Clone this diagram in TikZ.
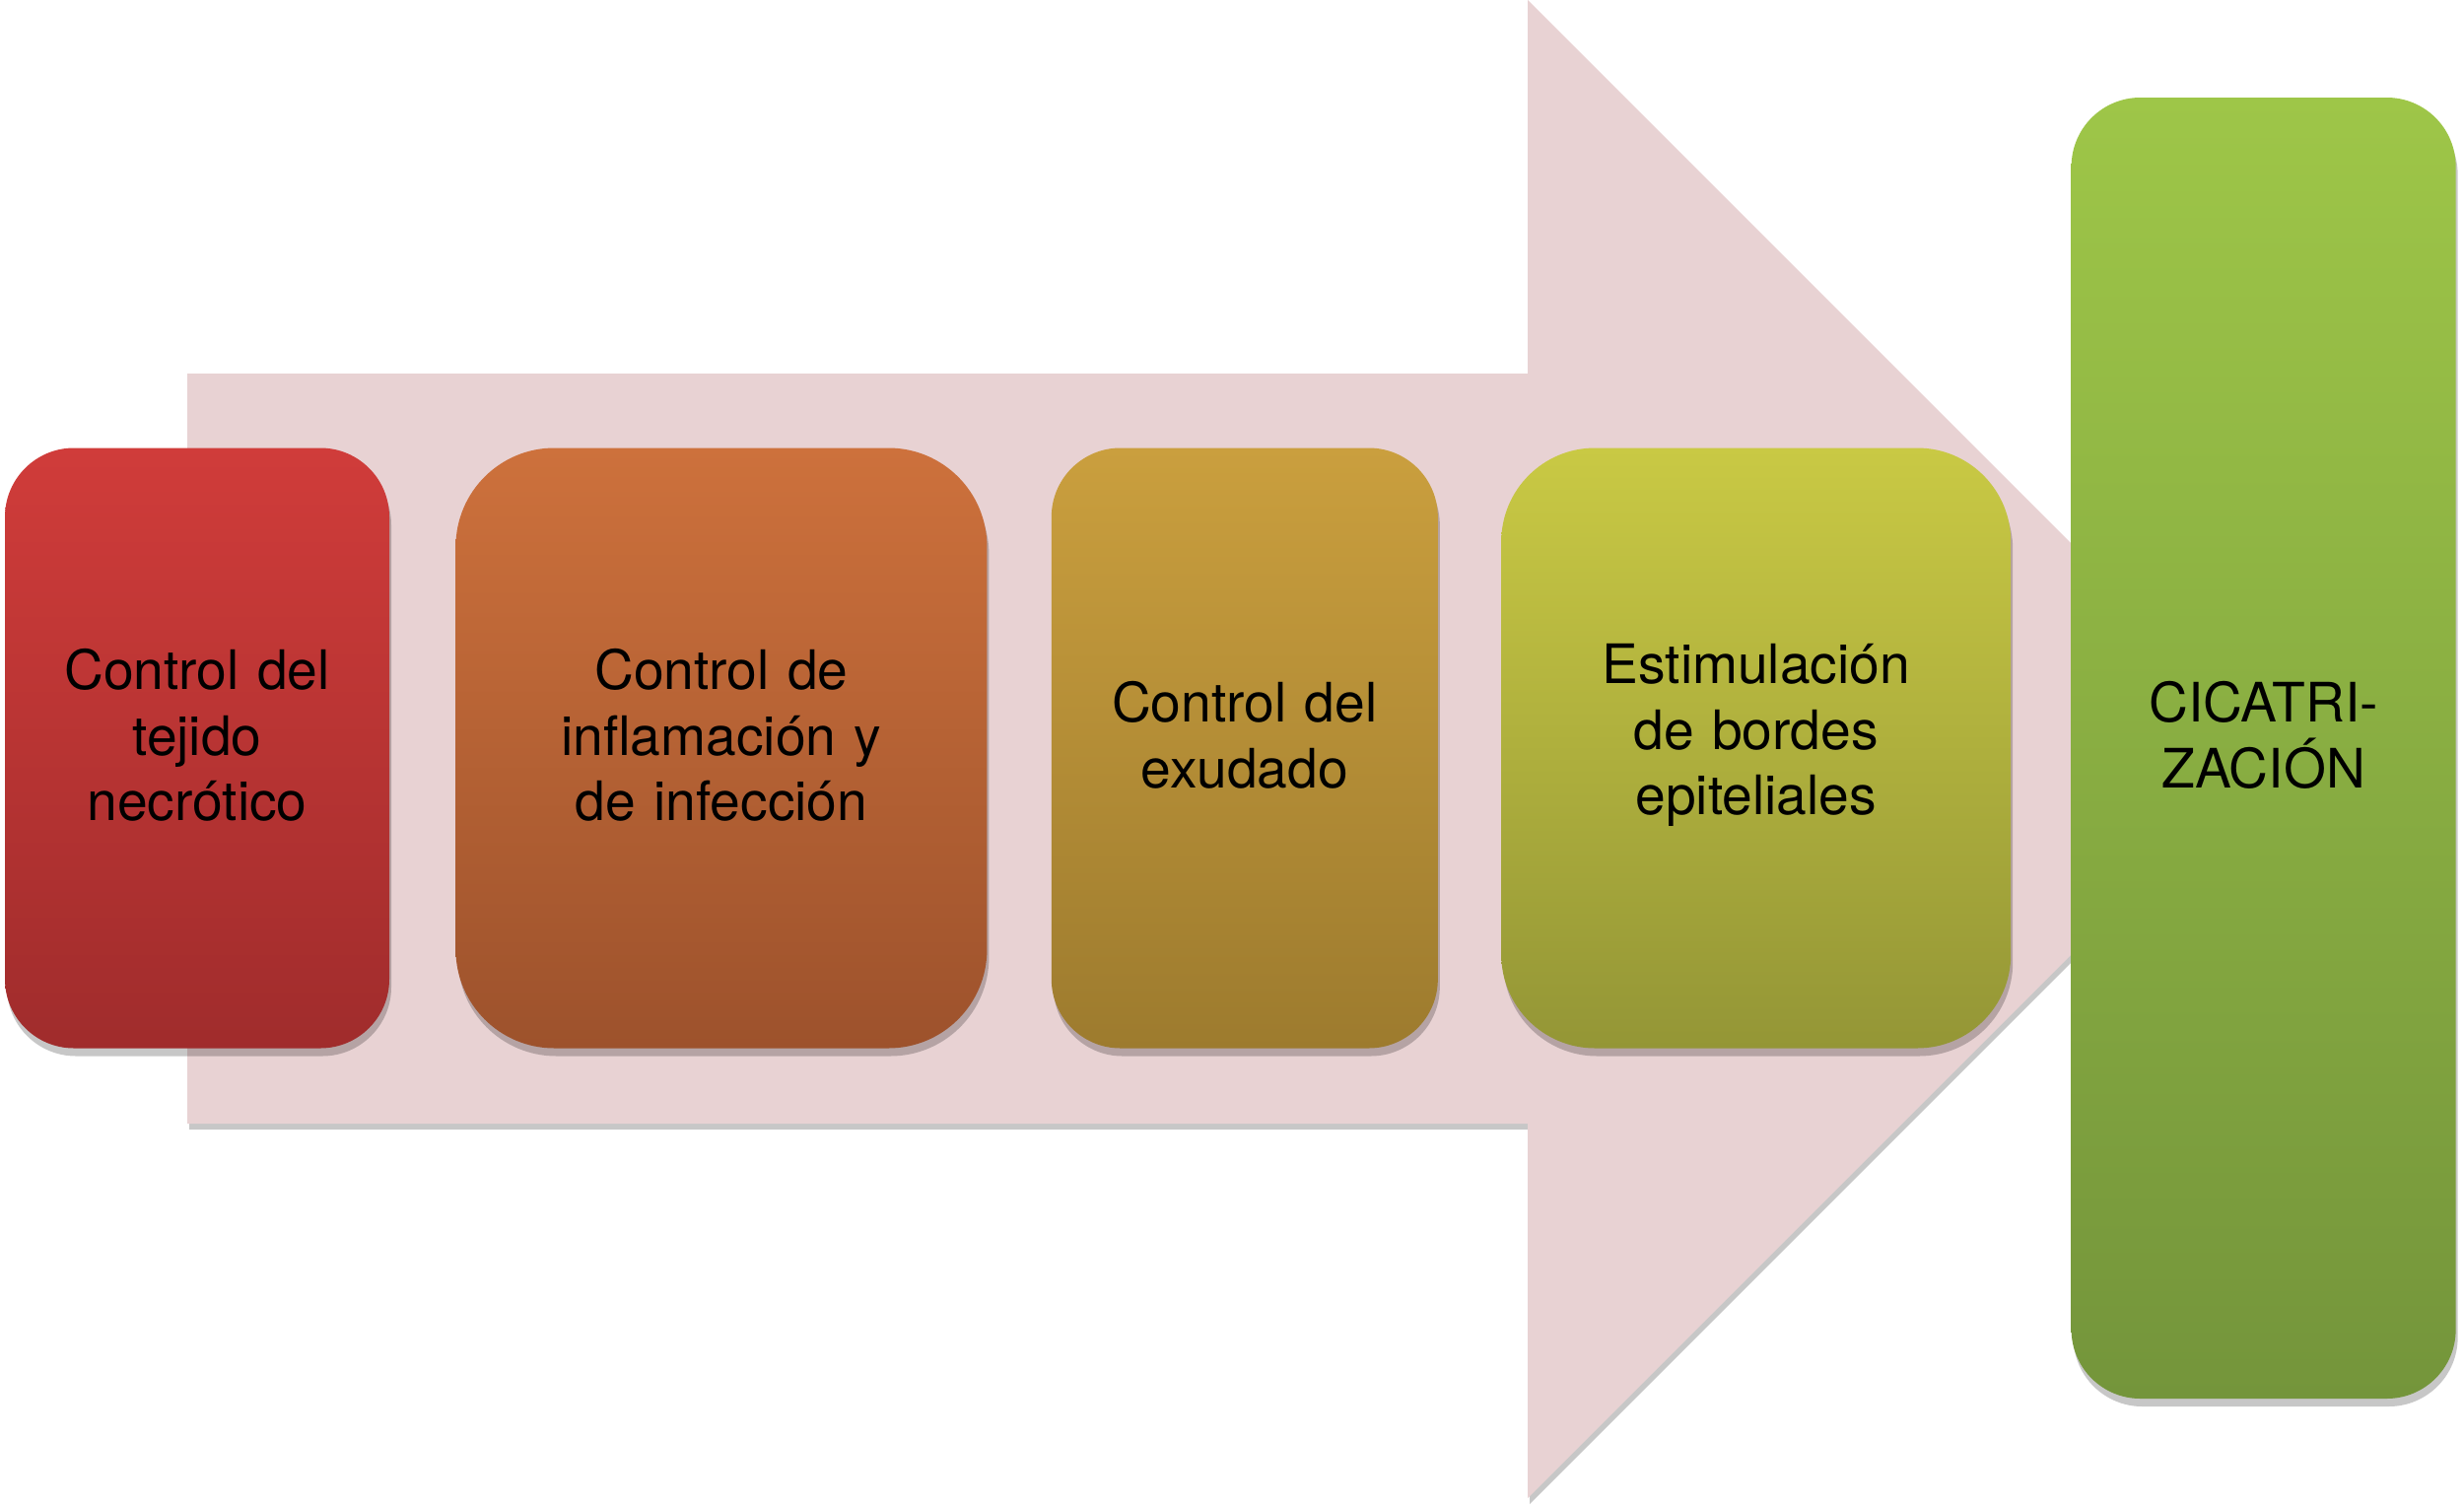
\documentclass[tikz,border=0pt]{standalone}
\usepackage{fontspec}
\setmainfont{TeX Gyre Heros}
\usepackage{tikz}
\usetikzlibrary{positioning,shadows}
\tikzset{
  stepbox/.style={rounded corners=0.7cm, align=center,
                  minimum height=6.09cm, text width=#1, inner sep=0pt,
                  font=\fontsize{15.7}{19}\selectfont,
                  execute at end node={\par\vspace*{0.26cm}},
                  drop shadow={shadow xshift=0.02cm, shadow yshift=-0.08cm,
                               opacity=0.22, fill=black}},
  stepbox/.default=3.9cm,
  necbox/.style={stepbox, top color=nectop, bottom color=necbot},
  infbox/.style={stepbox=5.39cm, rounded corners=1cm,
                 top color=inftop, bottom color=infbot},
  exubox/.style={stepbox=3.92cm, top color=exutop, bottom color=exubot},
  epibox/.style={stepbox=5.17cm, rounded corners=0.95cm,
                 top color=epitop, bottom color=epibot},
  cicbox/.style={stepbox, minimum height=13.2cm,
                 top color=cictop, bottom color=cicbot},
  bigarrow/.style={fill=arrowpink,
                   drop shadow={shadow xshift=0.02cm, shadow yshift=-0.06cm,
                                opacity=0.22, fill=black}},
}
\definecolor{nectop}{RGB}{208,60,58}
\definecolor{necbot}{RGB}{160,44,44}
\definecolor{inftop}{RGB}{205,113,60}
\definecolor{infbot}{RGB}{157,82,44}
\definecolor{exutop}{RGB}{202,159,62}
\definecolor{exubot}{RGB}{157,123,46}
\definecolor{epitop}{RGB}{201,201,68}
\definecolor{epibot}{RGB}{148,150,54}
\definecolor{cictop}{RGB}{158,198,72}
\definecolor{cicbot}{RGB}{116,149,59}
\definecolor{arrowpink}{RGB}{232,210,211}

\begin{document}
\begin{tikzpicture}[node distance=0.66cm]
  \useasboundingbox (0,0) rectangle (25,-15.27);
  \fill[bigarrow] (1.9,-3.79) -- (15.5,-3.79) -- (15.5,0) -- (23.1,-7.6)
    -- (15.5,-15.2) -- (15.5,-11.4) -- (1.9,-11.4) -- cycle;
  \node[necbox] (necro) at (2.0,-7.59) {Control del\\tejido\\necrótico};
  \node[infbox, right=of necro] (infla) {Control de\\inflamación y\\de infección};
  \node[exubox, right=0.64cm of infla] (exud) {Control del\\exudado};
  \node[epibox, right=0.63cm of exud] (epit) {Estimulación\\de bordes\\epiteliales};
  \node[cicbox, right=0.6cm of epit] (cicat) {CICATRI-\\ZACIÓN};
\end{tikzpicture}
\end{document}
